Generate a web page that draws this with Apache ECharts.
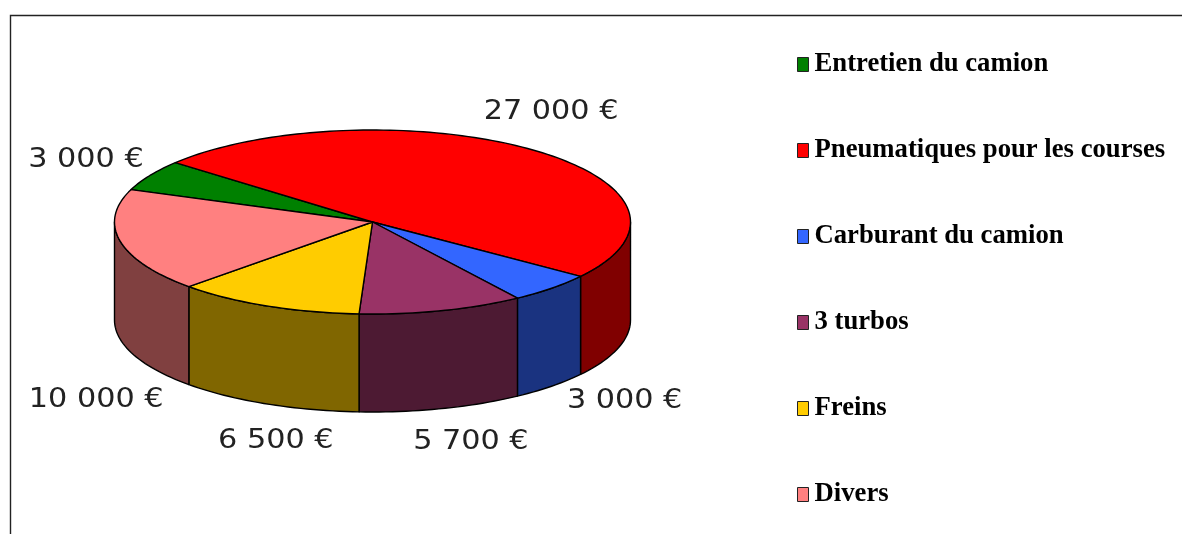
<!DOCTYPE html>
<html>
<head>
<meta charset="utf-8">
<title>Budget</title>
<style>
  html, body { margin: 0; padding: 0; background: #fff; }
  #main { width: 1182px; height: 534px; }
</style>
<script src="https://cdn.jsdelivr.net/npm/echarts@6/dist/echarts.min.js"></script>
</head>
<body>
<div id="main"></div>
<script>
// data
const categories = ['Entretien du camion', 'Pneumatiques pour les courses', 'Carburant du camion', '3 turbos', 'Freins', 'Divers'];
const values = [3000, 27000, 3000, 5700, 6500, 10000];
const topColors = ['#008000', '#ff0000', '#3366ff', '#993366', '#ffcc00', '#ff8080'];
const wallColors = ['#004000', '#800000', '#1a3380', '#4d1a33', '#806600', '#804040'];

// label shift away from the rim of each slice, px
const labelShift = [[-64, -15], [19, -38], [73, 15], [29, 33], [9, 37], [-24, 61]];

// ellipse of the pie top
const cx = 372.5, cy = 222, rx = 258, ry = 92, depth = 98;
const startAngle = -69.4; // clockwise from north

const total = values.reduce((a, b) => a + b, 0);
const toAngle = v => echarts.number.linearMap(v, [0, total], [0, 360]);

function rim(deg, dy) {
  const a = deg * Math.PI / 180;
  return [cx + rx * Math.sin(a), cy - ry * Math.cos(a) + (dy || 0)];
}

function arc(from, to, dy) {
  const pts = [];
  const n = Math.max(2, Math.ceil((to - from) / 1.5));
  for (let i = 0; i <= n; i++) pts.push(rim(from + (to - from) * i / n, dy));
  return pts;
}

function fmt(v) {
  return String(v).replace(/\B(?=(\d{3})+$)/g, ' ') + ' €';
}

function drawSlice(idx, api) {
  const before = values.slice(0, idx).reduce((a, b) => a + b, 0);
  const from = startAngle + toAngle(before);
  const to = from + toAngle(api.value(0));
  const children = [];
  const line = { stroke: '#000', lineWidth: 1.4, lineJoin: 'round' };

  // the wall only shows on the front half of the disc
  const wallFrom = Math.max(from, 90), wallTo = Math.min(to, 270);
  if (wallTo > wallFrom) {
    children.push({
      type: 'polygon',
      shape: { points: arc(wallFrom, wallTo, 0).concat(arc(wallFrom, wallTo, depth).reverse()) },
      style: Object.assign({ fill: wallColors[idx] }, line)
    });
  }
  children.push({
    type: 'polygon',
    shape: { points: [[cx, cy]].concat(arc(from, to, 0)) },
    style: Object.assign({ fill: topColors[idx] }, line)
  });

  const mid = (from + to) / 2;
  const onFront = mid > 90 && mid < 270;
  const p = rim(mid, onFront ? depth : 0);
  children.push({
    type: 'text',
    x: p[0] + labelShift[idx][0],
    y: p[1] + labelShift[idx][1],
    scaleX: 1.12,
    style: {
      text: fmt(api.value(0)),
      font: '27px "DejaVu Sans"',
      fill: '#222',
      align: 'center',
      verticalAlign: 'middle'
    }
  });
  return { type: 'group', children };
}

const chart = echarts.init(document.getElementById('main'));
chart.setOption({
  animation: false,
  backgroundColor: '#fff',
  legend: {
    orient: 'vertical',
    left: 792,
    top: 46,
    icon: 'rect',
    itemWidth: 11,
    itemHeight: 14,
    itemGap: 59,
    selectedMode: false,
    itemStyle: { borderColor: '#222', borderWidth: 1 },
    textStyle: { fontFamily: '"Liberation Serif"', fontWeight: 'bold', fontSize: 26.7, color: '#000', lineHeight: 26, padding: [0, 0, 0, 1] },
    data: categories
  },
  graphic: [{
    type: 'polyline',
    silent: true,
    shape: { points: [[10.5, 534], [10.5, 15.5], [1182, 15.5]] },
    style: { fill: null, stroke: '#222', lineWidth: 1.4 }
  }],
  series: categories.map((name, idx) => ({
    type: 'custom',
    name,
    coordinateSystem: 'none',
    silent: true,
    itemStyle: { color: topColors[idx] },
    renderItem: (params, api) => drawSlice(idx, api),
    data: [[values[idx]]]
  }))
});
</script>
</body>
</html>
